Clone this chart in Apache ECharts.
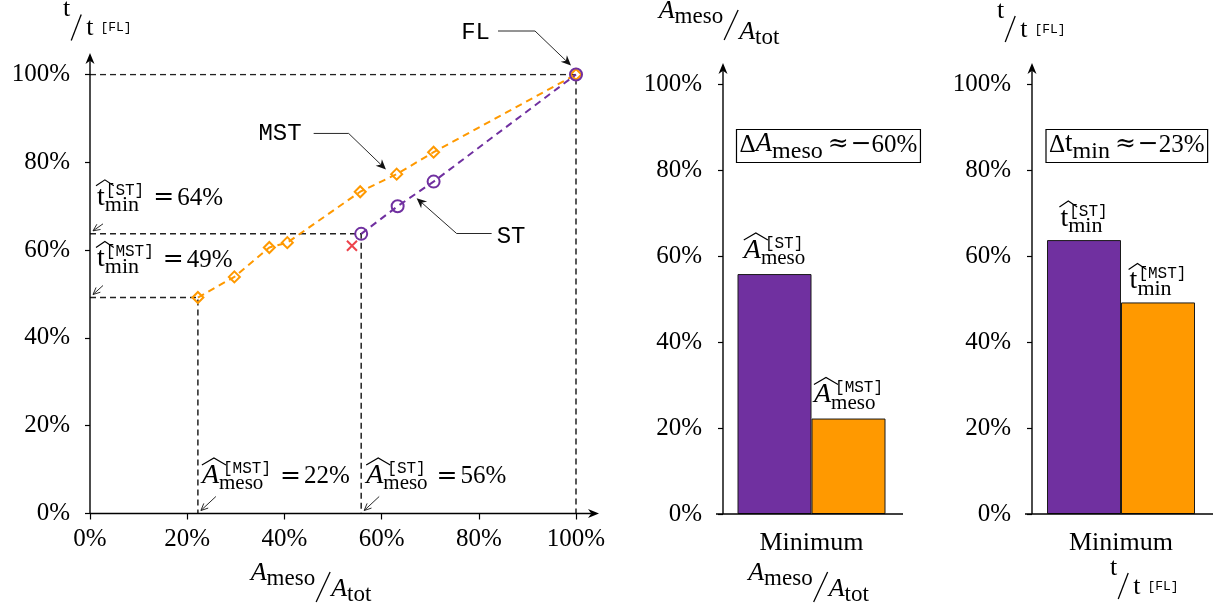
<!DOCTYPE html>
<html lang="en">
<head>
<meta charset="utf-8">
<title>Mesoscale area and time relative to FL</title>
<script src="https://cdn.jsdelivr.net/npm/echarts@6/dist/echarts.min.js"></script>
<style>
  html, body { margin: 0; padding: 0; background: #fff; }
  #chart { width: 1226px; height: 613px; }
</style>
</head>
<body>
<div id="chart"></div>
<script>
// Percent scale shared by all three panels
const percentTicks = [0, 20, 40, 60, 80, 100];

// Left panel: relative mesoscale area vs. relative time for each strategy
const mstArea = [22.2, 29.7, 36.9, 40.6, 55.6, 63.1, 70.7, 100];
const mstTime = [49.2, 53.9, 60.6, 61.7, 73.3, 77.3, 82.3, 100];
const stArea  = [55.8, 63.3, 70.7, 100];
const stTime  = [63.7, 70.0, 75.6, 100];
const rejectedArea = [53.9];
const rejectedTime = [61.0];

// Bar panels: minimum of each strategy
const barCategory = ['Minimum'];
const minAreaST = stArea[0], minAreaMST = mstArea[0];
const minTimeST = stTime[0], minTimeMST = mstTime[0];

const SERIF = '"Liberation Serif","DejaVu Serif",serif';
const OPS = '"DejaVu Serif","Liberation Serif",serif';
const MONO = '"Liberation Mono","DejaVu Sans Mono",monospace';
const INK = '#000';
const PURPLE = '#7030A0';
const ORANGE = '#FF9900';
const GUIDE = '#222';
const MAIN = 25;

const GRIDS = [
  { left: 90, top: 74.5, width: 486, height: 439 },
  { left: 723, top: 84, width: 177, height: 430 },
  { left: 1032, top: 84, width: 178, height: 430 }
];
const BAR_W = 74;

const pairs = (xs, ys) => xs.map((x, i) => [x, ys[i]]);
const pctLabel = v => Math.round(v) + '%';
const deltaPct = (a, b) => Math.abs(Math.round((b - a) / a * 100)) + '%';

const tickMin = percentTicks[0];
const tickMax = percentTicks[percentTicks.length - 1];
const tickStep = percentTicks[1] - percentTicks[0];

function valueAxis(gridIndex, margin, tickLen) {
  return {
    type: 'value', gridIndex, min: tickMin, max: tickMax, interval: tickStep,
    axisLine: { show: false }, splitLine: { show: false },
    axisTick: { show: true, length: tickLen, lineStyle: { color: INK, width: 1.2 } },
    axisLabel: { formatter: v => v + '%', color: INK, fontFamily: SERIF, fontSize: MAIN, margin }
  };
}
function categoryAxis(gridIndex) {
  return {
    type: 'category', gridIndex, data: barCategory,
    axisLine: { show: false }, axisTick: { show: false }, splitLine: { show: false },
    axisLabel: { color: INK, fontFamily: SERIF, fontSize: 26, margin: 16 }
  };
}
const guide = (pts) => ({
  type: 'line', xAxisIndex: 0, yAxisIndex: 0, data: pts, symbol: 'none', silent: true, z: 1,
  lineStyle: { color: GUIDE, width: 1.5, type: [6, 4] }
});
const bar = (g, value, color) => ({
  type: 'bar', xAxisIndex: g, yAxisIndex: g, data: [value], barWidth: BAR_W, barGap: '0%',
  itemStyle: { color, borderColor: '#1a1a1a', borderWidth: 1 }
});

const chart = echarts.init(document.getElementById('chart'), null, { renderer: 'canvas' });
chart.setOption({
  animation: false,
  backgroundColor: '#fff',
  grid: GRIDS,
  xAxis: [
    valueAxis(0, 13, 6),
    categoryAxis(1),
    categoryAxis(2)
  ],
  yAxis: [
    valueAxis(0, 20, 5),
    valueAxis(1, 21, 5),
    valueAxis(2, 21, 5)
  ],
  series: [
    guide([[0, tickMax], [stArea[stArea.length - 1], tickMax], [stArea[stArea.length - 1], 0]]),
    guide([[0, minTimeST], [minAreaST, minTimeST], [minAreaST, 0]]),
    guide([[0, minTimeMST], [minAreaMST, minTimeMST], [minAreaMST, 0]]),
    {
      name: 'MST', type: 'line', xAxisIndex: 0, yAxisIndex: 0, data: pairs(mstArea, mstTime),
      symbol: 'diamond', symbolSize: 11, z: 3,
      lineStyle: { color: ORANGE, width: 2, type: [7, 5] },
      itemStyle: { color: 'rgba(255,255,255,0)', borderColor: ORANGE, borderWidth: 2 }
    },
    {
      name: 'ST', type: 'line', xAxisIndex: 0, yAxisIndex: 0, data: pairs(stArea, stTime),
      symbol: 'circle', symbolSize: 12, z: 4,
      lineStyle: { color: PURPLE, width: 2, type: [7, 5] },
      itemStyle: { color: 'rgba(255,255,255,0)', borderColor: PURPLE, borderWidth: 2 }
    },
    {
      type: 'scatter', xAxisIndex: 0, yAxisIndex: 0, data: pairs(rejectedArea, rejectedTime),
      symbol: 'path://M0,0L10,10M10,0L0,10', symbolSize: 10, z: 4,
      itemStyle: { color: 'none', borderColor: '#E8141E', borderWidth: 2 }
    },
    bar(1, minAreaST, PURPLE),
    bar(1, minAreaMST, ORANGE),
    bar(2, minTimeST, PURPLE),
    bar(2, minTimeMST, ORANGE)
  ]
});

// ---------- annotation helpers (typeset-like labels, arrows) ----------
const mctx = document.createElement('canvas').getContext('2d');
const fontOf = (size, fam, italic) => (italic ? 'italic ' : '') + size + 'px ' + fam;
function textWidth(s, font) { mctx.font = font; return mctx.measureText(s).width; }
function textEl(s, x, base, size, fam, italic) {
  const mid = fam === MONO ? 0.27 : fam === OPS ? 0.36 : 0.34;
  return {
    type: 'text', x, y: base - size * mid, silent: true, z: 50,
    style: { text: s, font: fontOf(size, fam, italic), fill: INK, align: 'left', verticalAlign: 'middle' }
  };
}
function layoutMath(tokens) {
  let x = 0; const parts = [];
  for (const tk of tokens) {
    x += tk.gap || 0;
    const dy = tk.dy || 0;
    if (tk.t != null) {
      const size = tk.size || MAIN, fam = tk.fam || SERIF;
      const w = textWidth(tk.t, fontOf(size, fam, tk.italic));
      parts.push({ kind: 'text', s: tk.t, x, dy, size, fam, italic: tk.italic });
      if (tk.hat) parts.push({ kind: 'hat', x: x + tk.hat[0], w: w + tk.hat[1], dy: dy + tk.hat[2], h: tk.hat[3] });
      x += w;
    } else if (tk.script) {
      let w = 0;
      tk.script.forEach(sc => {
        if (!sc) return;
        const size = sc.size || (sc.fam === MONO ? 16 : 21), fam = sc.fam || SERIF;
        const ww = textWidth(sc.s, fontOf(size, fam)) + (sc.dx || 0);
        parts.push({ kind: 'text', s: sc.s, x: x + (sc.dx || 0), dy: dy + sc.dy, size, fam });
        w = Math.max(w, ww);
      });
      x += w;
    } else if (tk.slash) {
      const [w, yb, yt] = tk.slash;
      parts.push({ kind: 'slash', x, w, dy, yb, yt });
      x += w;
    }
  }
  return { parts, width: x };
}
function mathEls(tokens, ax, base, align) {
  const { parts, width } = layoutMath(tokens);
  const ox = align === 'center' ? ax - width / 2 : align === 'right' ? ax - width : ax;
  const els = parts.map(p => {
    if (p.kind === 'text') return textEl(p.s, ox + p.x, base + p.dy, p.size, p.fam, p.italic);
    if (p.kind === 'hat') return {
      type: 'polyline', silent: true, z: 50,
      shape: { points: [[ox + p.x, base + p.dy], [ox + p.x + p.w / 2, base + p.dy - p.h], [ox + p.x + p.w, base + p.dy]] },
      style: { stroke: INK, lineWidth: 1.2, fill: null }
    };
    return {
      type: 'line', silent: true, z: 50,
      shape: { x1: ox + p.x, y1: base + p.dy + p.yb, x2: ox + p.x + p.w, y2: base + p.dy + p.yt },
      style: { stroke: INK, lineWidth: 1.3 }
    };
  });
  els.width = width; els.left = ox;
  return els;
}
// Arrow along a polyline; last point is the tip
function arrow(points, opt) {
  const o = Object.assign({ L: 8, W: 4, filled: false, lw: 0.9, color: '#111' }, opt);
  const n = points.length, [tx, ty] = points[n - 1], [fx, fy] = points[n - 2];
  const len = Math.hypot(tx - fx, ty - fy), ux = (tx - fx) / len, uy = (ty - fy) / len;
  const nx = -uy, ny = ux;
  const bx = tx - o.L * ux, by = ty - o.L * uy;
  const b1 = [bx + o.W * nx, by + o.W * ny], b2 = [bx - o.W * nx, by - o.W * ny];
  const out = [];
  if (o.filled) {
    const notch = [tx - 0.7 * o.L * ux, ty - 0.7 * o.L * uy];
    out.push({ type: 'polyline', silent: true, z: 40, shape: { points: points.slice(0, n - 1).concat([notch]) }, style: { stroke: o.color, lineWidth: o.lw, fill: null } });
    out.push({ type: 'polygon', silent: true, z: 41, shape: { points: [[tx, ty], b1, notch, b2] }, style: { fill: o.color } });
  } else {
    out.push({ type: 'polyline', silent: true, z: 40, shape: { points: points.slice(0, n - 1).concat([[tx - 0.5 * ux, ty - 0.5 * uy]]) }, style: { stroke: o.color, lineWidth: o.lw, fill: null } });
    out.push({ type: 'polyline', silent: true, z: 41, shape: { points: [b1, [tx, ty], b2] }, style: { stroke: o.color, lineWidth: o.lw, fill: null } });
  }
  return out;
}
function axisArrow(x1, y1, x2, y2) {
  return arrow([[x1, y1], [x2, y2]], { L: 11, W: 4.5, filled: true, lw: 1.4, color: INK });
}
function hLine(x1, x2, y, lw) {
  return { type: 'line', silent: true, z: 30, shape: { x1, y1: y, x2, y2: y }, style: { stroke: INK, lineWidth: lw || 1.4 } };
}

// Typeset pieces
const tHat = [-1, 10, -21, 6];
const aHat = [0, 7, -20, 7];
const tMin = sup => [{ t: 't', size: 28, hat: tHat }, { script: [{ s: sup, fam: MONO, dy: -12, dx: 1 }, { s: 'min', size: 22, dy: 6 }] }];
const aMeso = sup => [{ t: 'A', size: 28, italic: true, hat: aHat }, { script: [{ s: sup, fam: MONO, dy: -12, dx: 4 }, { s: 'meso', dy: 6 }] }];
const eqTail = v => [{ gap: 9, t: '=', fam: OPS }, { gap: 3, t: pctLabel(v) }];
const aFrac = den => [
  { t: 'A', italic: true, size: 26 }, { script: [null, { s: 'meso', size: 23, dy: 5 }] },
  { gap: 1, slash: [14, 20, -10] },
  { gap: 1, t: 'A', italic: true, size: 26, dy: den }, { dy: den, script: [null, { s: 'tot', size: 23, dy: 5 }] }
];
const tFrac = [
  { t: 't', size: 26 }, { gap: 1, slash: [10, 22, -4] },
  { gap: 5, t: 't', size: 26, dy: 19 }, { gap: 7, t: '[FL]', fam: MONO, size: 13, dy: 13 }
];

function buildGraphics() {
  const px = (g, v) => chart.convertToPixel({ xAxisIndex: g, yAxisIndex: g }, v);
  const G = [];

  // ----- left panel axes -----
  const O = px(0, [tickMin, tickMin]);
  const T = px(0, [tickMax, tickMax]);
  G.push(...axisArrow(O[0], O[1], T[0] + 23, O[1]));
  G.push(...axisArrow(O[0], O[1], O[0], T[1] - 21.5));
  G.push(...mathEls(tFrac, O[0] - 27, T[1] - 56, 'left'));
  G.push(...mathEls(aFrac(16), O[0] + 221, O[1] + 68.5, 'center'));

  // minimum call-outs on the axes
  const yST = px(0, [0, minTimeST])[1], yMST = px(0, [0, minTimeMST])[1];
  const xST = px(0, [minAreaST, 0])[0], xMST = px(0, [minAreaMST, 0])[0];
  G.push(...mathEls(tMin('[ST]').concat(eqTail(minTimeST)), O[0] + 7, yST - 27, 'left'));
  G.push(...arrow([[O[0] + 13, yST - 10], [O[0] + 3, yST - 3]], { L: 7, W: 3.2 }));
  G.push(...mathEls(tMin('[MST]').concat(eqTail(minTimeMST)), O[0] + 7, yMST - 29, 'left'));
  G.push(...arrow([[O[0] + 13, yMST - 12], [O[0] + 3, yMST - 3]], { L: 7, W: 3.2 }));
  G.push(...mathEls(aMeso('[MST]').concat(eqTail(minAreaMST)), xMST + 4, O[1] - 28.5, 'left'));
  G.push(...arrow([[xMST + 18, O[1] - 17], [xMST + 3, O[1] - 3]], { L: 7, W: 3.2 }));
  G.push(...mathEls(aMeso('[ST]').concat(eqTail(minAreaST)), xST + 5, O[1] - 28.5, 'left'));
  G.push(...arrow([[xST + 18, O[1] - 17], [xST + 3, O[1] - 3]], { L: 7, W: 3.2 }));

  // strategy call-outs
  const F = px(0, [stArea[stArea.length - 1], stTime[stTime.length - 1]]);
  G.push(textEl('FL', F[0] - 86 - textWidth('FL', fontOf(24, MONO)), F[1] - 35.5, 24, MONO));
  G.push(...arrow([[F[0] - 78, F[1] - 43.5], [F[0] - 41, F[1] - 43.5], [F[0] - 5, F[1] - 9]], { L: 10, W: 4.5, filled: true }));
  const M = px(0, [mstArea[5], mstTime[5]]);
  G.push(textEl('MST', M[0] - 95 - textWidth('MST', fontOf(24, MONO)), M[1] - 34, 24, MONO));
  G.push(...arrow([[M[0] - 83, M[1] - 40.7], [M[0] - 48, M[1] - 40.7], [M[0] - 10.7, M[1] - 4.7]], { L: 10, W: 4.5, filled: true }));
  const S = px(0, [stArea[1], stTime[1]]);
  G.push(textEl('ST', S[0] + 99, S[1] + 37, 24, MONO));
  G.push(...arrow([[S[0] + 94, S[1] + 27.3], [S[0] + 59, S[1] + 27.3], [S[0] + 19, S[1] - 8]], { L: 10, W: 4.5, filled: true }));

  // ----- bar panels -----
  [[1, minAreaST, minAreaMST], [2, minTimeST, minTimeMST]].forEach(([g, vST, vMST]) => {
    const gr = GRIDS[g];
    const base = px(g, [barCategory[0], tickMin]);
    const top = px(g, [barCategory[0], tickMax])[1];
    const cx = base[0];
    G.push(...axisArrow(gr.left, base[1], gr.left, top - 21));
    G.push(hLine(gr.left - 7, gr.left + gr.width + 3, base[1], 1.4));
    const ySTtop = px(g, [barCategory[0], vST])[1];
    const yMSTtop = px(g, [barCategory[0], vMST])[1];
    const cST = cx - BAR_W / 2, cMST = cx + BAR_W / 2;
    const tail = [{ gap: 5, t: '\u2248', fam: OPS }, { gap: 2, t: '\u2212', fam: OPS }, { t: deltaPct(vST, vMST) }];
    let boxTokens;
    if (g === 1) {
      G.push(...mathEls(aMeso('[ST]'), cST, ySTtop - 14, 'center'));
      G.push(...mathEls(aMeso('[MST]'), cMST, yMSTtop - 14, 'center'));
      G.push(...mathEls(aFrac(21), gr.left - 4, top - 64, 'center'));
      G.push(...mathEls(aFrac(16), cx - 3, base[1] + 68, 'center'));
      boxTokens = [{ t: '\u0394' }, { t: 'A', italic: true, size: 27 }, { script: [null, { s: 'meso', size: 24, dy: 6 }] }].concat(tail);
    } else {
      G.push(...mathEls(tMin('[ST]'), cST, ySTtop - 12, 'center'));
      G.push(...mathEls(tMin('[MST]'), cMST, yMSTtop - 12, 'center'));
      G.push(...mathEls(tFrac, gr.left - 35, top - 64, 'left'));
      G.push(...mathEls(tFrac, cx - 11, base[1] + 63, 'left'));
      boxTokens = [{ t: '\u0394' }, { t: 't', size: 27 }, { script: [null, { s: 'min', size: 24, dy: 6 }] }].concat(tail);
    }
    const boxLeft = cST - BAR_W / 2 - 1;
    const boxTop = top + 45.5;
    const els = mathEls(boxTokens, boxLeft + 3, boxTop + 24, 'left');
    G.push(...els);
    G.push({ type: 'rect', silent: true, z: 45, shape: { x: boxLeft, y: boxTop, width: els.width + 6, height: 33 },
      style: { fill: '#fff', stroke: INK, lineWidth: 1.2 } });
  });

  chart.setOption({ graphic: { elements: G } });
}
buildGraphics();
</script>
</body>
</html>
